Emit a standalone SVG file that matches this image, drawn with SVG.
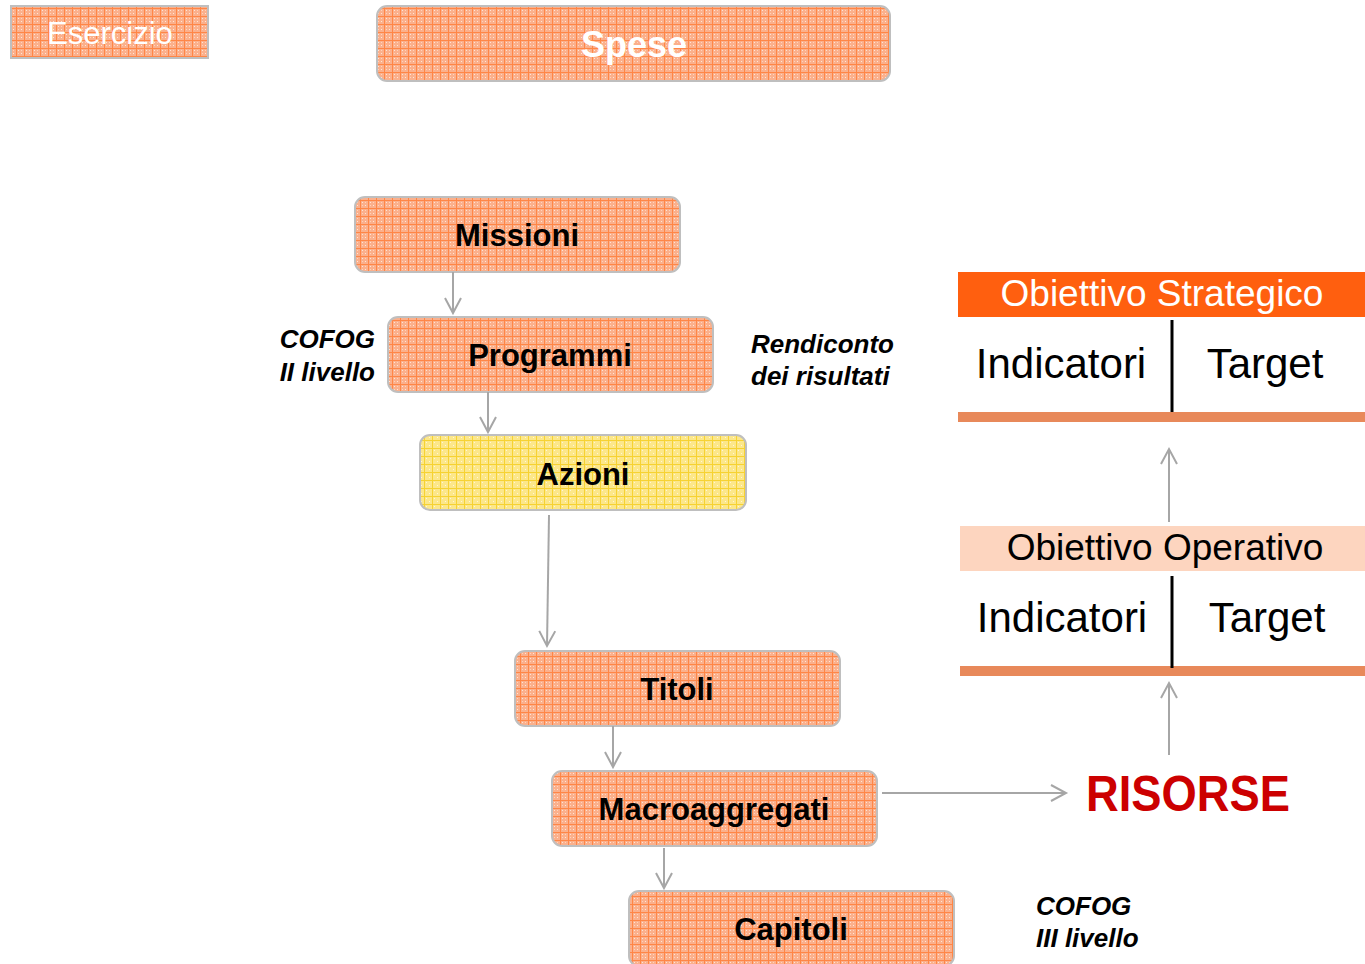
<svg xmlns="http://www.w3.org/2000/svg" width="1365" height="964" viewBox="0 0 1365 964">
<defs>
<pattern id="po" width="8" height="8" patternUnits="userSpaceOnUse">
<rect width="8" height="8" fill="#FBB08C"/>
<rect x="2" y="2" width="1" height="1" fill="#FFE6D6"/>
<rect x="5" y="5" width="1" height="1" fill="#FFE6D6"/>
<rect x="5" y="2" width="1" height="1" fill="#FFD3BB"/>
<rect x="2" y="5" width="1" height="1" fill="#FFD3BB"/>
<rect x="0" y="0" width="8" height="1" fill="#FF8646"/>
<rect x="0" y="0" width="1" height="8" fill="#FF8646"/>
</pattern>
<pattern id="py" width="8" height="8" patternUnits="userSpaceOnUse">
<rect width="8" height="8" fill="#FCE78A"/>
<rect x="2" y="2" width="1" height="1" fill="#FFF6D6"/>
<rect x="5" y="5" width="1" height="1" fill="#FFF6D6"/>
<rect x="0" y="0" width="8" height="1" fill="#F6D232"/>
<rect x="0" y="0" width="1" height="8" fill="#F6D232"/>
</pattern>
<marker id="ah" markerWidth="20" markerHeight="20" refX="16" refY="9" orient="auto" markerUnits="userSpaceOnUse">
<path d="M1,1 L16,9 L1,17" fill="none" stroke="#A6A6A6" stroke-width="2"/>
</marker>
</defs>
<style>
.box{fill:url(#po);stroke:#BFBFBF;stroke-width:2}
.ybox{fill:url(#py);stroke:#BFBFBF;stroke-width:2}
.nt{font-family:"Liberation Sans",Arial,sans-serif;font-weight:bold;font-size:31px;fill:#000;text-anchor:middle}
.lab{font-family:"Liberation Sans",Arial,sans-serif;font-weight:bold;font-style:italic;font-size:26px;fill:#000}
.big{font-family:"Liberation Sans",Arial,sans-serif;font-size:42px;fill:#000;text-anchor:middle}
.hd{font-family:"Liberation Sans",Arial,sans-serif;font-size:37px;text-anchor:middle}
.conn{stroke:#A6A6A6;stroke-width:2;fill:none;marker-end:url(#ah)}
</style>
<rect width="1365" height="964" fill="#fff"/>
<g id="esercizio">
<rect x="11" y="6" width="197" height="52" fill="url(#po)" stroke="#BFBFBF" stroke-width="2"/>
<text x="110" y="44" font-family="Liberation Sans,Arial,sans-serif" font-size="31" fill="#fff" text-anchor="middle">Esercizio</text>
</g>
<g id="spese">
<rect x="377" y="6" width="513" height="75" rx="10" class="box"/>
<text x="634" y="57" class="nt" style="font-size:36px;fill:#fff">Spese</text>
</g>
<g id="missioni">
<rect x="355" y="197" width="325" height="75" rx="10" class="box"/>
<text x="517" y="246" class="nt">Missioni</text>
</g>
<g id="programmi">
<rect x="388" y="317" width="325" height="75" rx="10" class="box"/>
<text x="550" y="366" class="nt">Programmi</text>
</g>
<g id="azioni">
<rect x="420" y="435" width="326" height="75" rx="10" class="ybox"/>
<text x="583" y="485" class="nt">Azioni</text>
</g>
<g id="titoli">
<rect x="515" y="651" width="325" height="75" rx="10" class="box"/>
<text x="677" y="700" class="nt">Titoli</text>
</g>
<g id="macroaggregati">
<rect x="552" y="771" width="325" height="75" rx="10" class="box"/>
<text x="714" y="820" class="nt">Macroaggregati</text>
</g>
<g id="capitoli">
<rect x="629" y="891" width="325" height="75" rx="10" class="box"/>
<text x="791" y="940" class="nt">Capitoli</text>
</g>
<g id="cofog2">
<text x="375" y="348" class="lab" text-anchor="end">COFOG</text>
<text x="375" y="381" class="lab" text-anchor="end">II livello</text>
</g>
<g id="rendiconto">
<text x="751" y="353" class="lab">Rendiconto</text>
<text x="751" y="385" class="lab">dei risultati</text>
</g>
<g id="cofog3">
<text x="1036" y="915" class="lab">COFOG</text>
<text x="1036" y="947" class="lab">III livello</text>
</g>
<g id="obiettivo-strategico">
<rect x="958" y="272" width="407" height="45" fill="#FF5F0F"/>
<text x="1162" y="306" class="hd" fill="#fff">Obiettivo Strategico</text>
<text x="1061" y="378" class="big">Indicatori</text>
<text x="1265" y="378" class="big">Target</text>
<rect x="958" y="412" width="407" height="10" fill="#E8895A"/>
<line x1="1172" y1="320" x2="1172" y2="412" stroke="#000" stroke-width="3"/>
</g>
<g id="obiettivo-operativo">
<rect x="960" y="526" width="405" height="45" fill="#FDD5BF"/>
<text x="1165" y="560" class="hd" fill="#000">Obiettivo Operativo</text>
<text x="1062" y="632" class="big">Indicatori</text>
<text x="1267" y="632" class="big">Target</text>
<rect x="960" y="666" width="405" height="10" fill="#E8895A"/>
<line x1="1172" y1="576" x2="1172" y2="668" stroke="#000" stroke-width="3"/>
</g>
<g id="risorse">
<text x="1086" y="811" font-family="Liberation Sans,Arial,sans-serif" font-weight="bold" font-size="50" fill="#CC0000" textLength="204" lengthAdjust="spacingAndGlyphs">RISORSE</text>
</g>
<g id="connectors">
<line x1="453" y1="272" x2="453" y2="313" class="conn"/>
<line x1="488" y1="392" x2="488" y2="432" class="conn"/>
<line x1="549" y1="515" x2="547" y2="646" class="conn"/>
<line x1="613" y1="726" x2="613" y2="767" class="conn"/>
<line x1="664" y1="848" x2="664" y2="888" class="conn"/>
<line x1="882" y1="793" x2="1066" y2="793" class="conn"/>
<line x1="1169" y1="755" x2="1169" y2="683" class="conn"/>
<line x1="1169" y1="522" x2="1169" y2="449" class="conn"/>
</g>
</svg>
